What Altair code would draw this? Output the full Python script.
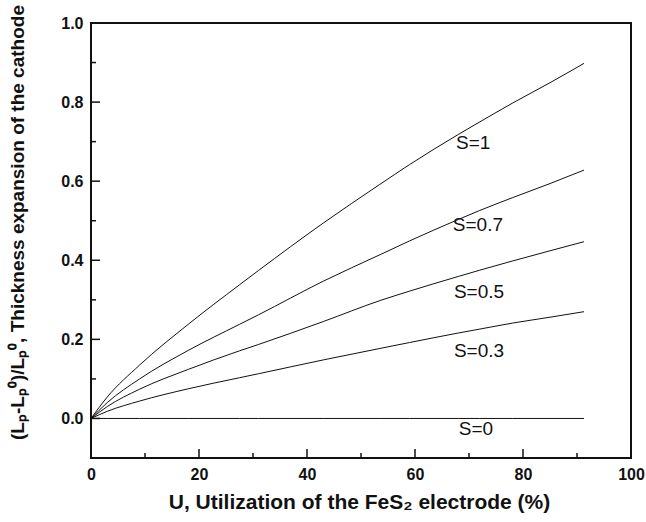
import altair as alt
import pandas as pd

# ---- data ----
U = [0, 3, 9, 18, 27.5, 31, 43, 53.5, 59, 68, 72, 78, 85, 91.3]
S1 = [0, 0.054, 0.135, 0.238, 0.338, 0.374, 0.494, 0.592, 0.642, 0.718, 0.750, 0.797, 0.849, 0.898]
S07 = [0, 0.040, 0.100, 0.172, 0.238, 0.262, 0.347, 0.414, 0.449, 0.503, 0.526, 0.558, 0.594, 0.628]
S05 = [0, 0.030, 0.074, 0.124, 0.171, 0.187, 0.245, 0.298, 0.322, 0.359, 0.375, 0.398, 0.424, 0.447]
S03 = [0, 0.018, 0.044, 0.075, 0.103, 0.113, 0.148, 0.177, 0.192, 0.216, 0.226, 0.241, 0.256, 0.270]
S0 = [0] * len(U)

series = {"S=1": S1, "S=0.7": S07, "S=0.5": S05, "S=0.3": S03, "S=0": S0}

label_text = ["S=1", "S=0.7", "S=0.5", "S=0.3", "S=0"]
label_x = [67.6, 67.0, 67.2, 67.2, 68.1]
label_y = [0.696, 0.489, 0.320, 0.170, -0.026]

x_major = [0, 20, 40, 60, 80, 100]
x_minor = [10, 30, 50, 70, 90]
y_major = [0.0, 0.2, 0.4, 0.6, 0.8, 1.0]
y_minor = [0.1, 0.3, 0.5, 0.7, 0.9]

X_DOMAIN = [0, 100]
Y_DOMAIN = [-0.1, 1.0]
W, H = 540, 435
MAJOR_LEN, MINOR_LEN = 9, 5  # inward tick lengths in pixels

rows = []
for name, vals in series.items():
    for u, v in zip(U, vals):
        rows.append({"U": u, "val": v, "grp": name, "w": 1.0})

# inward axis ticks as short two-point segments (lengths converted to data units)
px_x = (X_DOMAIN[1] - X_DOMAIN[0]) / W
px_y = (Y_DOMAIN[1] - Y_DOMAIN[0]) / H
for vals, ln in ((x_major, MAJOR_LEN), (x_minor, MINOR_LEN)):
    for t in vals:
        g = f"xt{t}"
        rows.append({"U": t, "val": Y_DOMAIN[0], "grp": g, "w": 1.5})
        rows.append({"U": t, "val": Y_DOMAIN[0] + ln * px_y, "grp": g, "w": 1.5})
for vals, ln in ((y_major, MAJOR_LEN), (y_minor, MINOR_LEN)):
    for t in vals:
        g = f"yt{t}"
        rows.append({"U": X_DOMAIN[0], "val": t, "grp": g, "w": 1.5})
        rows.append({"U": X_DOMAIN[0] + ln * px_x, "val": t, "grp": g, "w": 1.5})

df = pd.DataFrame(rows)
labels = pd.DataFrame({"U": label_x, "val": label_y, "text": label_text})

FONT = "Liberation Sans"
INK = "#111"

xscale = alt.Scale(domain=X_DOMAIN, nice=False, zero=False)
yscale = alt.Scale(domain=Y_DOMAIN, nice=False, zero=False)

xaxis = alt.Axis(
    values=x_major, format="d", ticks=False, domain=False, grid=False,
    labelFont=FONT, labelFontSize=16, labelFontWeight="bold", labelColor=INK,
    labelPadding=8, labelFlush=False,
    title="U, Utilization of the FeS\u2082 electrode (%)",
    titleFont=FONT, titleFontSize=21, titleFontWeight="bold", titleColor=INK,
    titleX=268, titleY=50, titleAlign="center", titleBaseline="alphabetic",
)
yaxis = alt.Axis(
    values=y_major, format=".1f", ticks=False, domain=False, grid=False,
    labelFont=FONT, labelFontSize=16, labelFontWeight="bold", labelColor=INK,
    labelPadding=8, labelFlush=False,
    title="(L\u209a-L\u209a\u2070)/L\u209a\u2070, Thickness expansion of the cathode",
    titleFont=FONT, titleFontSize=19, titleFontWeight="bold", titleColor=INK,
    titleX=-74, titleY=199, titleAngle=270, titleAlign="center", titleBaseline="middle",
)

lines = alt.Chart(df).mark_line(color=INK, interpolate="monotone").encode(
    x=alt.X("U:Q", scale=xscale, axis=xaxis),
    y=alt.Y("val:Q", scale=yscale, axis=yaxis),
    detail="grp:N",
    strokeWidth=alt.StrokeWidth("w:Q", scale=None, legend=None),
)

text = alt.Chart(labels).mark_text(
    align="left", baseline="middle", font=FONT, fontSize=19, color=INK
).encode(
    x=alt.X("U:Q", scale=xscale),
    y=alt.Y("val:Q", scale=yscale),
    text="text:N",
)

chart = alt.layer(lines, text).properties(
    width=W, height=H,
    autosize=alt.AutoSizeParams(type="none"),
    padding={"left": 91, "top": 23, "right": 15, "bottom": 64},
    background="white",
).configure_view(stroke=INK, strokeWidth=2)

chart.save("out.html", embed_options={"renderer": "svg", "actions": False})
